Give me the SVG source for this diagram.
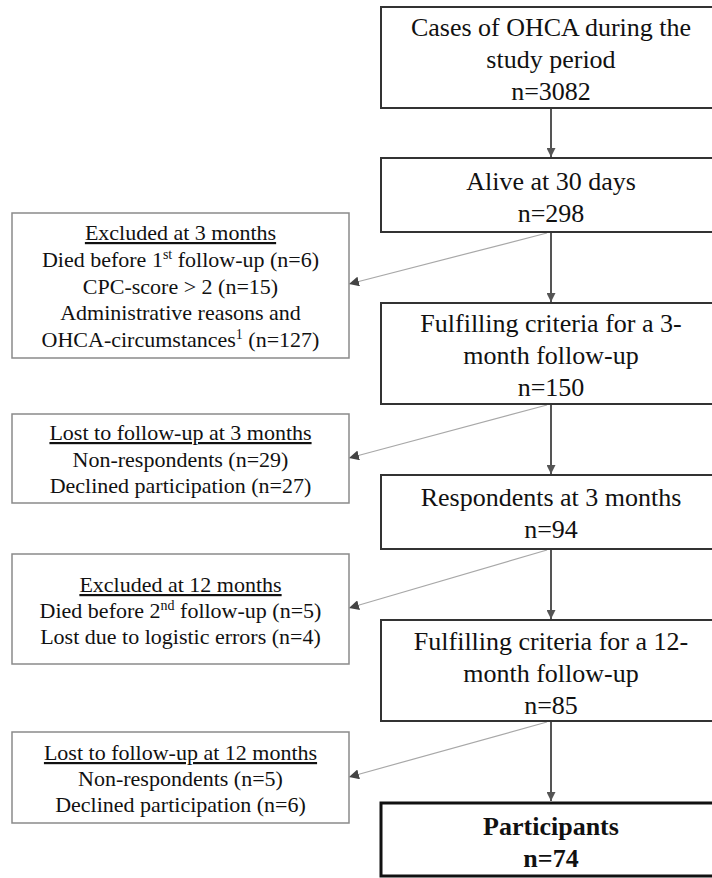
<svg xmlns="http://www.w3.org/2000/svg" width="712" height="878" viewBox="0 0 712 878">
<defs>
<style>
.main{fill:#fff;stroke:#333;stroke-width:2}
.side{fill:#fff;stroke:#8a8a8a;stroke-width:1.5}
.final{fill:#fff;stroke:#111;stroke-width:3}
.t{font-family:"Liberation Serif","Times New Roman",serif;fill:#111;text-anchor:middle}
.tm{font-size:26px}
.ts{font-size:22px}
.b{font-weight:bold}
.u{text-decoration:underline}
.sup{font-size:14px}
.vline{stroke:#555;stroke-width:2;fill:none}
.dline{stroke:#a8a8a8;stroke-width:1.2;fill:none}
</style>
<marker id="ah" viewBox="0 0 10 10" refX="10" refY="5" markerWidth="9" markerHeight="9" markerUnits="userSpaceOnUse" orient="auto">
<path d="M0,0 L10,5 L0,10 Z" fill="#555"/>
</marker>
<marker id="ah2" viewBox="0 0 10 10" refX="10" refY="5" markerWidth="10" markerHeight="10" markerUnits="userSpaceOnUse" orient="auto">
<path d="M0,0 L10,5 L0,10 Z" fill="#444"/>
</marker>
</defs>

<g id="connectors">
<line class="vline" x1="551" y1="108" x2="551" y2="157" marker-end="url(#ah)"/>
<line class="vline" x1="551" y1="232" x2="551" y2="302" marker-end="url(#ah)"/>
<line class="vline" x1="551" y1="404" x2="551" y2="474" marker-end="url(#ah)"/>
<line class="vline" x1="551" y1="549" x2="551" y2="619" marker-end="url(#ah)"/>
<line class="vline" x1="551" y1="721" x2="551" y2="801" marker-end="url(#ah)"/>
<line class="dline" x1="547" y1="233" x2="349" y2="284" marker-end="url(#ah2)"/>
<line class="dline" x1="547" y1="405" x2="349" y2="458" marker-end="url(#ah2)"/>
<line class="dline" x1="547" y1="550" x2="349" y2="608" marker-end="url(#ah2)"/>
<line class="dline" x1="547" y1="722" x2="349" y2="777" marker-end="url(#ah2)"/>
</g>

<g id="n1">
<rect class="main" x="381" y="7" width="345" height="101"/>
<text class="t tm" x="551" y="36">Cases of OHCA during the</text>
<text class="t tm" x="551" y="68">study period</text>
<text class="t tm" x="551" y="100">n=3082</text>
</g>

<g id="n2">
<rect class="main" x="381" y="158" width="345" height="74"/>
<text class="t tm" x="551" y="190">Alive at 30 days</text>
<text class="t tm" x="551" y="222">n=298</text>
</g>

<g id="n3">
<rect class="main" x="381" y="303" width="345" height="101"/>
<text class="t tm" x="551" y="332">Fulfilling criteria for a 3-</text>
<text class="t tm" x="551" y="364">month follow-up</text>
<text class="t tm" x="551" y="396">n=150</text>
</g>

<g id="n4">
<rect class="main" x="381" y="475" width="345" height="74"/>
<text class="t tm" x="551" y="506">Respondents at 3 months</text>
<text class="t tm" x="551" y="538">n=94</text>
</g>

<g id="n5">
<rect class="main" x="381" y="620" width="345" height="101"/>
<text class="t tm" x="551" y="650">Fulfilling criteria for a 12-</text>
<text class="t tm" x="551" y="682">month follow-up</text>
<text class="t tm" x="551" y="714">n=85</text>
</g>

<g id="n6">
<rect class="final" x="381" y="803" width="345" height="73"/>
<text class="t tm b" x="551" y="835">Participants</text>
<text class="t tm b" x="551" y="867">n=74</text>
</g>

<g id="s1">
<rect class="side" x="12" y="213" width="337" height="145"/>
<text class="t ts u" x="180.5" y="240">Excluded at 3 months</text>
<text class="t ts" x="180.5" y="267">Died before 1<tspan class="sup" dy="-8">st</tspan><tspan dy="8"> follow-up (n=6)</tspan></text>
<text class="t ts" x="180.5" y="294">CPC-score &gt; 2 (n=15)</text>
<text class="t ts" x="180.5" y="320">Administrative reasons and</text>
<text class="t ts" x="180.5" y="347">OHCA-circumstances<tspan class="sup" dy="-8">1</tspan><tspan dy="8"> (n=127)</tspan></text>
</g>

<g id="s2">
<rect class="side" x="12" y="414" width="337" height="89"/>
<text class="t ts u" x="180.5" y="440">Lost to follow-up at 3 months</text>
<text class="t ts" x="180.5" y="467">Non-respondents (n=29)</text>
<text class="t ts" x="180.5" y="493">Declined participation (n=27)</text>
</g>

<g id="s3">
<rect class="side" x="12" y="554" width="337" height="110"/>
<text class="t ts u" x="180.5" y="592">Excluded at 12 months</text>
<text class="t ts" x="180.5" y="618">Died before 2<tspan class="sup" dy="-8">nd</tspan><tspan dy="8"> follow-up (n=5)</tspan></text>
<text class="t ts" x="180.5" y="644">Lost due to logistic errors (n=4)</text>
</g>

<g id="s4">
<rect class="side" x="12" y="732" width="337" height="91"/>
<text class="t ts u" x="180.5" y="760">Lost to follow-up at 12 months</text>
<text class="t ts" x="180.5" y="786">Non-respondents (n=5)</text>
<text class="t ts" x="180.5" y="812">Declined participation (n=6)</text>
</g>
</svg>
